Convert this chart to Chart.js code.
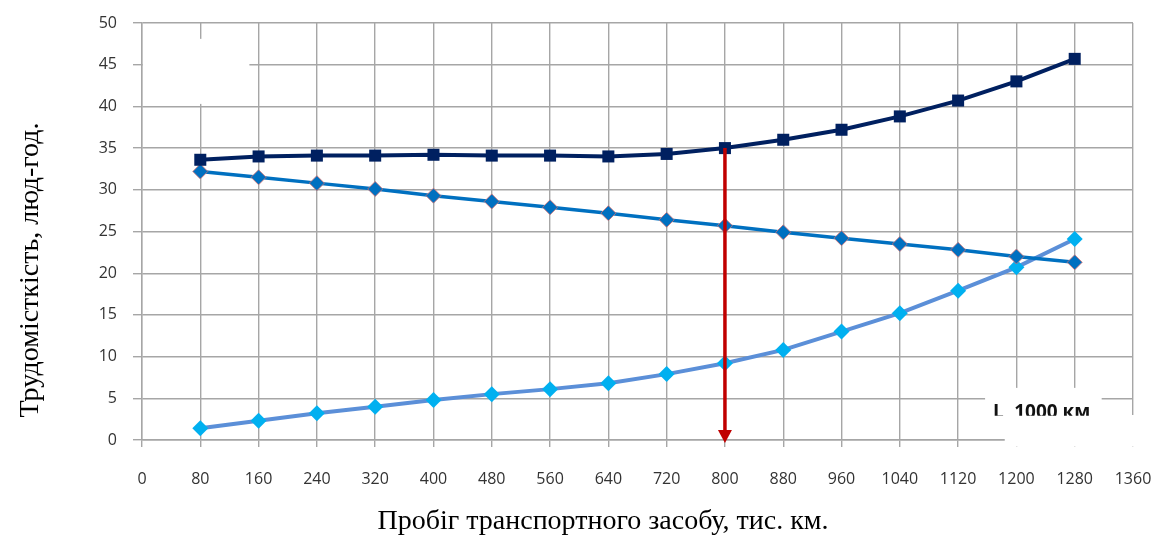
<!DOCTYPE html>
<html>
<head>
<meta charset="utf-8">
<script src="https://cdn.jsdelivr.net/npm/chart.js@4"></script>
<style>
  html, body { margin: 0; padding: 0; background: #fff; }
  #wrap { width: 1160px; height: 538px; }
</style>
</head>
<body>
<div id="wrap"><canvas id="lineChart" width="1160" height="538"></canvas></div>
<script>
// data
var probig = [80, 160, 240, 320, 400, 480, 560, 640, 720, 800, 880, 960, 1040, 1120, 1200, 1280];
var seriaSum = [33.6, 34.0, 34.1, 34.1, 34.2, 34.1, 34.1, 34.0, 34.3, 35.0, 36.0, 37.2, 38.8, 40.7, 43.0, 45.7];
var seriaTO = [32.2, 31.5, 30.8, 30.1, 29.3, 28.6, 27.9, 27.2, 26.4, 25.7, 24.9, 24.2, 23.5, 22.8, 22.0, 21.3];
var seriaRem = [1.4, 2.3, 3.2, 4.0, 4.8, 5.5, 6.1, 6.8, 7.9, 9.2, 10.8, 13.0, 15.2, 17.9, 20.7, 24.1];
var strilkaX = 800;
var strilkaY = [35.0, 0];
var yMax = 50, yStep = 5, xMax = 1360, xStep = 80;
var yTitle = 'Трудомісткість, люд-год.';
var xTitle = 'Пробіг транспортного засобу, тис. км.';
var lLabel = 'L, 1000 км';

function toXY(ys) {
  return probig.map(function (x, i) { return { x: x, y: ys[i] }; });
}

var tickFont = { family: "'Open Sans', sans-serif", size: 16 };
var titleCss = "28px 'Liberation Serif', 'DejaVu Serif', serif";
var gridColor = '#A6A6A6';

var patches = {
  id: 'patches',
  beforeDatasetsDraw: function (chart) {
    var c = chart.ctx, xs = chart.scales.x, ys = chart.scales.y;
    function X(v) { return xs.getPixelForValue(v); }
    function Y(v) { return ys.getPixelForValue(v); }
    c.save();
    c.fillStyle = '#fff';
    // erased legend, top left
    c.fillRect(xs.left + 1, Y(48.1), X(146) - xs.left, Y(40.3) - Y(48.1));
    // label box, bottom right
    c.fillRect(X(1157), Y(6.25), X(1317) - X(1157), Y(2.9) - Y(6.25));
    c.fillRect(X(1184), Y(3.0), 160, Y(-0.8) - Y(3.0));
    c.beginPath();
    c.rect(0, 0, chart.width, Y(2.9));
    c.clip();
    c.fillStyle = '#111';
    c.font = "bold 19px 'Open Sans', sans-serif";
    c.textAlign = 'left';
    c.textBaseline = 'alphabetic';
    c.fillText(lLabel, X(1168), Y(2.9) + 2);
    c.restore();
  },
  afterDatasetsDraw: function (chart) {
    var c = chart.ctx, xs = chart.scales.x, ys = chart.scales.y;
    var px = xs.getPixelForValue(strilkaX);
    var top = ys.getPixelForValue(strilkaY[0]);
    var tip = ys.getPixelForValue(strilkaY[1]) + 3;
    c.save();
    c.strokeStyle = '#C00000';
    c.fillStyle = '#C00000';
    c.lineWidth = 3.5;
    c.beginPath();
    c.moveTo(px, top);
    c.lineTo(px, tip - 10);
    c.stroke();
    c.beginPath();
    c.moveTo(px - 7, tip - 13);
    c.lineTo(px + 7, tip - 13);
    c.lineTo(px, tip);
    c.closePath();
    c.fill();
    c.restore();
  },
  afterDraw: function (chart) {
    var c = chart.ctx;
    c.save();
    c.fillStyle = '#000';
    c.font = titleCss;
    c.textAlign = 'center';
    c.textBaseline = 'middle';
    c.fillText(xTitle, 603, 522);
    c.translate(31, 270);
    c.rotate(-Math.PI / 2);
    c.fillText(yTitle, 0, 0);
    c.restore();
  }
};

var ctxL = document.getElementById('lineChart').getContext('2d');
var myLineChart = new Chart(ctxL, {
  type: 'line',
  data: {
    datasets: [{
        label: 'Загальна',
        data: toXY(seriaSum),
        borderColor: '#002060',
        backgroundColor: '#002060',
        borderWidth: 4,
        pointStyle: 'rect',
        pointRadius: 8.5,
        pointBorderWidth: 0,
        order: 1
      },
      {
        label: 'ТО',
        data: toXY(seriaTO),
        borderColor: '#0070C0',
        backgroundColor: '#0070C0',
        pointBorderColor: '#D47070',
        borderWidth: 3.5,
        pointStyle: 'rectRot',
        pointRadius: 7.5,
        pointBorderWidth: 0.8,
        order: 2
      },
      {
        label: 'Ремонт',
        data: toXY(seriaRem),
        borderColor: '#5B8FD8',
        backgroundColor: '#00B0F0',
        borderWidth: 4,
        pointStyle: 'rectRot',
        pointRadius: 8,
        pointBorderWidth: 0,
        order: 3
      }
    ]
  },
  options: {
    responsive: false,
    animation: false,
    events: [],
    layout: { padding: { left: 0, top: 23, right: 27, bottom: 0 } },
    plugins: {
      legend: { display: false },
      tooltip: { enabled: false }
    },
    scales: {
      x: {
        type: 'linear',
        min: 0,
        max: xMax,
        ticks: {
          stepSize: xStep, padding: 23, color: '#333', font: tickFont,
          callback: function (v) { return String(v); }
        },
        grid: { color: gridColor, lineWidth: 1.4, tickLength: 7 },
        border: { color: gridColor, width: 1.4 },
        afterFit: function (s) { s.height = 98; s.paddingLeft = 0; s.paddingRight = 0; }
      },
      y: {
        min: 0,
        max: yMax,
        ticks: { stepSize: yStep, padding: 16, color: '#333', font: tickFont },
        grid: { color: gridColor, lineWidth: 1.4, tickLength: 9 },
        border: { color: gridColor, width: 1.4 },
        afterFit: function (s) { s.width = 142; s.paddingTop = 0; s.paddingBottom = 0; }
      }
    }
  },
  plugins: [patches]
});
</script>
</body>
</html>
